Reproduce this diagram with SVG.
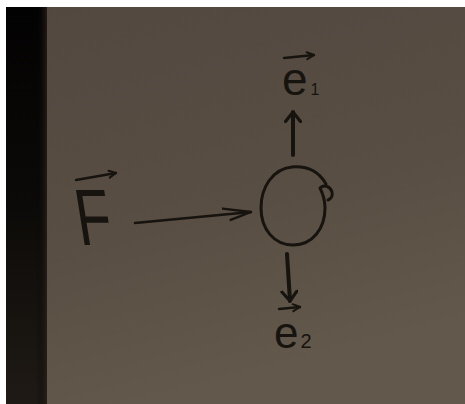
<svg xmlns="http://www.w3.org/2000/svg" width="465" height="404" viewBox="0 0 465 404">
<style>
.ink{fill:none;stroke:#17130f;stroke-linecap:round;stroke-linejoin:round}
.lbl{font-family:"Liberation Sans","DejaVu Sans",sans-serif;fill:#17130f}
</style>
<defs>
<linearGradient id="bg" x1="0" y1="0" x2="0.3" y2="1">
<stop offset="0" stop-color="#524840"/>
<stop offset="0.6" stop-color="#584e43"/>
<stop offset="1" stop-color="#62584b"/>
</linearGradient>
<linearGradient id="band" x1="0" y1="0" x2="0" y2="1">
<stop offset="0" stop-color="#030202"/>
<stop offset="0.5" stop-color="#0c0a08"/>
<stop offset="1" stop-color="#1f1a15"/>
</linearGradient>
<linearGradient id="bandEdge" x1="0" y1="0" x2="1" y2="0">
<stop offset="0" stop-color="#000" stop-opacity="0"/>
<stop offset="1" stop-color="#2a201a" stop-opacity="0.8"/>
</linearGradient>
<marker id="head" viewBox="0 0 12 18" refX="11" refY="9" markerWidth="12" markerHeight="18" markerUnits="userSpaceOnUse" orient="auto">
<path d="M1.5,1.5 L11,9 L1.5,16.5" fill="none" stroke="#17130f" stroke-width="3.2" stroke-linecap="round" stroke-linejoin="round"/>
</marker>
<marker id="longhead" viewBox="0 0 30 16" refX="29" refY="8" markerWidth="30" markerHeight="16" markerUnits="userSpaceOnUse" orient="auto">
<path d="M1,2 L29,8 L8,14" fill="none" stroke="#17130f" stroke-width="2.4" stroke-linecap="round" stroke-linejoin="round"/>
</marker>
<marker id="vec" viewBox="0 0 10 10" refX="9" refY="5" markerWidth="10" markerHeight="10" markerUnits="userSpaceOnUse" orient="auto">
<path d="M2,1.5 L9,5 L2,8.5" fill="none" stroke="#17130f" stroke-width="2" stroke-linecap="round" stroke-linejoin="round"/>
</marker>
</defs>
<rect x="0" y="0" width="465" height="404" fill="#ffffff"/>
<rect x="6" y="7" width="459" height="397" fill="url(#bg)"/>
<rect x="6" y="7" width="41" height="397" fill="url(#band)"/>
<rect x="36" y="7" width="11" height="397" fill="url(#bandEdge)"/>

<g id="connectors">
<path id="arrow-F" class="ink" stroke-width="2.6" d="M135,223 L251,212" marker-end="url(#longhead)"/>
<path id="arrow-e1" class="ink" stroke-width="4" d="M293,155 L293,112" marker-end="url(#head)"/>
<path id="arrow-e2" class="ink" stroke-width="4" d="M287,254 L290,301" marker-end="url(#head)"/>
</g>

<g id="node-body">
<path class="ink" stroke-width="3" d="M326,184 C318,170 305,166 292,167 C272,169 261,188 261,208 C261,229 274,245 293,245 C313,245 325,228 325,208 C325,199 322,192 320,188 C324,184 330,186 332,192 C333,196 331,199 328,200"/>
</g>

<g id="label-F">
<text class="lbl" x="0" y="0" font-size="80" transform="translate(80,245) skewX(9) scale(0.72,1)">F</text>
<path class="ink" stroke-width="2.4" d="M76,180 L116,173" marker-end="url(#vec)"/>
</g>

<g id="label-e1">
<text class="lbl" x="282" y="95" font-size="46">e<tspan font-size="16" dx="3">1</tspan></text>
<path class="ink" stroke-width="2.4" d="M284,58 L314,55" marker-end="url(#vec)"/>
</g>

<g id="label-e2">
<text class="lbl" x="274" y="348" font-size="44">e<tspan font-size="20" dx="2">2</tspan></text>
<path class="ink" stroke-width="2.4" d="M279,309 L300,307" marker-end="url(#vec)"/>
</g>
</svg>
